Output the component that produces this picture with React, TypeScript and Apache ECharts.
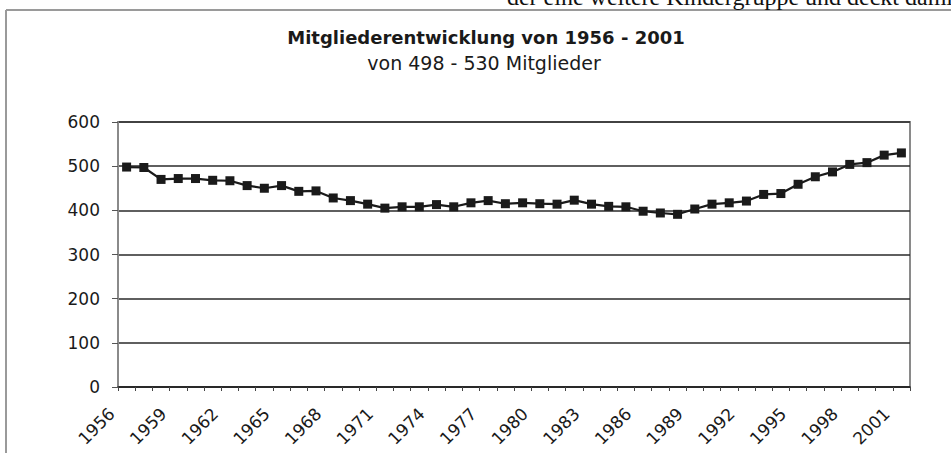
import React, { useEffect, useRef } from "react";
import * as echarts from "echarts";

const years: string[] = [
  "1956", "1957", "1958", "1959", "1960", "1961", "1962", "1963", "1964", "1965",
  "1966", "1967", "1968", "1969", "1970", "1971", "1972", "1973", "1974", "1975",
  "1976", "1977", "1978", "1979", "1980", "1981", "1982", "1983", "1984", "1985",
  "1986", "1987", "1988", "1989", "1990", "1991", "1992", "1993", "1994", "1995",
  "1996", "1997", "1998", "1999", "2000", "2001",
];

const members: number[] = [
  498, 497, 470, 472, 472, 468, 467, 456, 450, 456,
  443, 444, 428, 422, 414, 405, 408, 408, 413, 408,
  417, 422, 415, 417, 415, 414, 423, 414, 409, 408,
  398, 394, 391, 403, 414, 417, 421, 436, 438, 459,
  476, 487, 504, 508, 525, 530,
];

const yTicks: number[] = [0, 100, 200, 300, 400, 500, 600];

const titleText = "Mitgliederentwicklung von 1956 - 2001";
const subtitleText = "von 498 - 530 Mitglieder";
const pageText = "der eine weitere Kindergruppe und deckt dami";

export default function App() {
  const ref = useRef<HTMLDivElement>(null);
  useEffect(() => {
    if (!ref.current) return;
    const chart = echarts.init(ref.current, null, { renderer: "svg" });
    const sans = "DejaVu Sans";
    chart.setOption({
      animation: false,
      backgroundColor: "#ffffff",
      title: [
        {
          text: titleText,
          left: 481,
          top: 23,
          textAlign: "center",
          textStyle: { fontFamily: sans, fontSize: 18, fontWeight: "bold", color: "#1a1a1a" },
        },
        {
          text: subtitleText,
          left: 479,
          top: 48,
          textAlign: "center",
          textStyle: { fontFamily: sans, fontSize: 19, fontWeight: "normal", color: "#1a1a1a" },
        },
      ],
      graphic: [
        {
          type: "line",
          shape: { x1: 6, y1: 10, x2: 951, y2: 10 },
          style: { stroke: "#9a9a9a", lineWidth: 2 },
        },
        {
          type: "line",
          shape: { x1: 6, y1: 10, x2: 6, y2: 453 },
          style: { stroke: "#9a9a9a", lineWidth: 2 },
        },
        {
          type: "text",
          x: 953,
          y: 9,
          style: {
            text: pageText,
            align: "right",
            verticalAlign: "bottom",
            fontFamily: "Liberation Serif",
            fontSize: 24,
            fill: "#111",
          },
        },
      ],
      grid: {
        left: 118,
        right: 41,
        top: 122,
        bottom: 66,
        show: true,
        borderColor: "#8a8a8a",
        borderWidth: 2,
        backgroundColor: "transparent",
      },
      xAxis: {
        type: "category",
        data: years,
        boundaryGap: true,
        axisLine: { show: true, lineStyle: { color: "#222", width: 1.5 } },
        axisTick: { show: true, interval: 0, length: 4, lineStyle: { color: "#444" } },
        axisLabel: {
          interval: 2,
          rotate: 45,
          margin: 9,
          padding: [0, 21, 0, 0],
          fontFamily: sans,
          fontSize: 17,
          color: "#1a1a1a",
        },
        splitLine: { show: false },
      },
      yAxis: {
        type: "value",
        min: yTicks[0],
        max: yTicks[yTicks.length - 1],
        interval: 100,
        axisLine: { show: true, lineStyle: { color: "#8a8a8a", width: 2 } },
        axisTick: { show: true, length: 6, lineStyle: { color: "#555" } },
        axisLabel: { margin: 18, fontFamily: sans, fontSize: 17, color: "#1a1a1a" },
        splitLine: { show: true, lineStyle: { color: "#2a2a2a", width: 1.5 } },
      },
      series: [
        {
          type: "line",
          data: members,
          symbol: "rect",
          symbolSize: 9,
          lineStyle: { color: "#1a1a1a", width: 2.2 },
          itemStyle: { color: "#1a1a1a" },
        },
      ],
    });
    return () => chart.dispose();
  }, []);
  return (
    <div
      ref={ref}
      style={{ position: "absolute", left: 0, top: 0, width: 951, height: 453 }}
    />
  );
}
